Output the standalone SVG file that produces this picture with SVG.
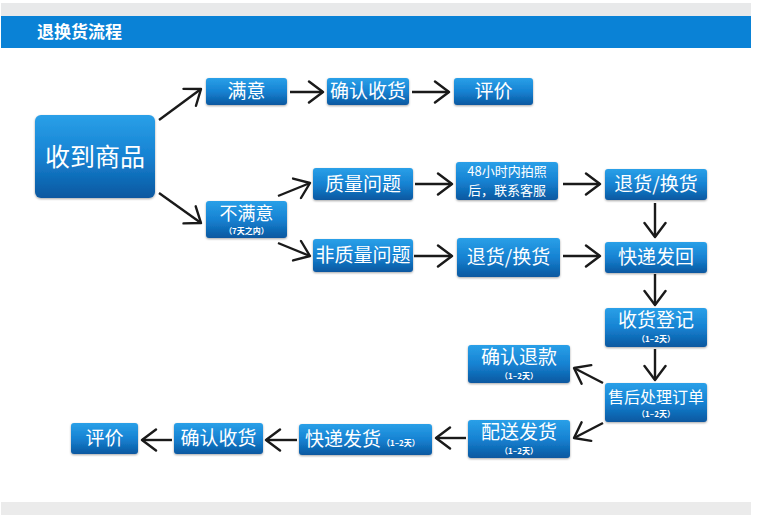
<svg xmlns="http://www.w3.org/2000/svg" width="784" height="515" viewBox="0 0 784 515">
<defs>
<linearGradient id="g" x1="0" y1="0" x2="0" y2="1">
<stop offset="0" stop-color="#2aa0e8"/>
<stop offset="0.5" stop-color="#1682d2"/>
<stop offset="1" stop-color="#0a58a0"/>
</linearGradient>
<marker id="ah" viewBox="0 0 18 24" refX="16" refY="12" markerWidth="18" markerHeight="24" markerUnits="userSpaceOnUse" orient="auto">
<path d="M2,1.5 L16,12 L2,22.5" fill="none" stroke="#1a1a1a" stroke-width="2.4" stroke-linecap="round" stroke-linejoin="round"/>
</marker>
<filter id="sh" x="-10%" y="-10%" width="120%" height="130%">
<feDropShadow dx="0" dy="1" stdDeviation="1" flood-color="#000" flood-opacity="0.35"/>
</filter>
</defs>
<style>
.n{fill:url(#g);filter:url(#sh)}
.t{fill:#fff;font-family:"Noto Sans CJK SC","Noto Sans",sans-serif;text-anchor:middle;font-size:19px}
.s{fill:#fff;font-family:"Noto Sans CJK SC","Noto Sans",sans-serif;text-anchor:middle;font-size:8px;font-weight:bold}
.c line{stroke:#1a1a1a;stroke-width:2.4;marker-end:url(#ah)}
</style>
<rect x="0" y="0" width="784" height="515" fill="#fff"/>
<rect x="1" y="3" width="750" height="14" fill="#e8e9ea"/>
<rect x="1" y="16" width="750" height="32" fill="#0a82d6"/>
<text x="37" y="38" fill="#fff" font-family="'Noto Sans CJK SC',sans-serif" font-size="17" font-weight="bold">退换货流程</text>
<rect x="1" y="502" width="750" height="13" fill="#ebebeb"/>

<g id="n1"><rect class="n" x="35" y="115" width="120" height="83" rx="6"/><text class="t" x="95" y="166" style="font-size:25px">收到商品</text></g>
<g id="n2"><rect class="n" x="206" y="78" width="81" height="27" rx="3"/><text class="t" x="246.5" y="98">满意</text></g>
<g id="n3"><rect class="n" x="327" y="78" width="82" height="27" rx="3"/><text class="t" x="368" y="98">确认收货</text></g>
<g id="n4"><rect class="n" x="454" y="78" width="79" height="27" rx="3"/><text class="t" x="493.5" y="98">评价</text></g>
<g id="n5"><rect class="n" x="206" y="201" width="81" height="37" rx="3"/><text class="t" x="246.5" y="220" style="font-size:18px">不满意</text><text class="s" x="246.5" y="234">（7天之内）</text></g>
<g id="n6"><rect class="n" x="313" y="168" width="100" height="32" rx="3"/><text class="t" x="363" y="191">质量问题</text></g>
<g id="n7"><rect class="n" x="456" y="162" width="102" height="38" rx="3"/><text class="t" x="507" y="176" style="font-size:13px">48小时内拍照</text><text class="t" x="507" y="195" style="font-size:13px">后，联系客服</text></g>
<g id="n8"><rect class="n" x="605" y="169" width="102" height="31" rx="3"/><text class="t" x="656" y="191">退货/换货</text></g>
<g id="n9"><rect class="n" x="313" y="239" width="100" height="33" rx="3"/><text class="t" x="363" y="262">非质量问题</text></g>
<g id="n10"><rect class="n" x="457" y="238" width="103" height="39" rx="3"/><text class="t" x="508.5" y="264">退货/换货</text></g>
<g id="n11"><rect class="n" x="605" y="242" width="102" height="31" rx="3"/><text class="t" x="656" y="264">快递发回</text></g>
<g id="n12"><rect class="n" x="605" y="308" width="102" height="39" rx="3"/><text class="t" x="656" y="327">收货登记</text><text class="s" x="656" y="342">（1–2天）</text></g>
<g id="n13"><rect class="n" x="468" y="345" width="102" height="38" rx="3"/><text class="t" x="519" y="364">确认退款</text><text class="s" x="519" y="379">（1–2天）</text></g>
<g id="n14"><rect class="n" x="605" y="383" width="102" height="39" rx="3"/><text class="t" x="656" y="403" style="font-size:16px">售后处理订单</text><text class="s" x="656" y="417">（1–2天）</text></g>
<g id="n15"><rect class="n" x="468" y="420" width="102" height="38" rx="3"/><text class="t" x="519" y="439">配送发货</text><text class="s" x="519" y="454">（1–2天）</text></g>
<g id="n16"><rect class="n" x="299" y="424" width="133" height="31" rx="3"/><text class="t" x="305" y="446" style="text-anchor:start">快递发货</text><text class="s" x="382" y="446" style="text-anchor:start">（1–2天）</text></g>
<g id="n17"><rect class="n" x="174" y="423" width="89" height="31" rx="3"/><text class="t" x="218.5" y="445">确认收货</text></g>
<g id="n18"><rect class="n" x="71" y="423" width="67" height="31" rx="3"/><text class="t" x="104.5" y="445">评价</text></g>

<g id="connectors" class="c">
<line x1="159" y1="120" x2="201" y2="89"/>
<line x1="159" y1="193" x2="201" y2="223"/>
<line x1="290" y1="92" x2="323" y2="92"/>
<line x1="412" y1="92" x2="449" y2="92"/>
<line x1="278" y1="196" x2="310" y2="183"/>
<line x1="278" y1="243" x2="310" y2="256"/>
<line x1="415" y1="184" x2="452" y2="184"/>
<line x1="563" y1="184" x2="600" y2="184"/>
<line x1="655" y1="203" x2="655" y2="237"/>
<line x1="414" y1="256" x2="452" y2="256"/>
<line x1="563" y1="256" x2="600" y2="256"/>
<line x1="655" y1="274" x2="655" y2="305"/>
<line x1="655" y1="349" x2="655" y2="380"/>
<line x1="603" y1="383" x2="574" y2="368"/>
<line x1="603" y1="423" x2="574" y2="438"/>
<line x1="466" y1="438" x2="436" y2="438"/>
<line x1="297" y1="440" x2="266" y2="440"/>
<line x1="172" y1="440" x2="142" y2="440"/>
</g>
</svg>
